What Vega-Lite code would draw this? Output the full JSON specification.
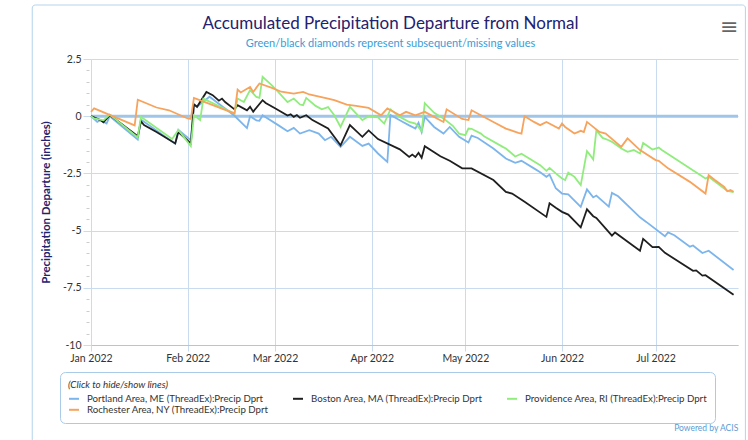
{
"$schema": "https://vega.github.io/schema/vega-lite/v6.json",
"width": 647,
"height": 286,
"autosize": {"type": "none"},
"padding": {"left": 91, "top": 59, "right": 10, "bottom": 95},
"background": "white",
"config": {"view": {"stroke": null}, "font": "Lato"},
"title": {"text": "Accumulated Precipitation Departure from Normal", "subtitle": "Green/black diamonds represent subsequent/missing values", "anchor": "middle", "frame": "group", "dx": -24, "offset": -45.5, "fontSize": 17, "font": "Lato", "fontWeight": "normal", "color": "#22226e", "subtitleFont": "Lato", "subtitleColor": "#3a9bd6", "subtitleFontSize": 11, "subtitlePadding": 5},
"resolve": {"axis": {"y": "independent"}},
"datasets": {
"precip": [
{"date":"2022-01-01","station":"Portland Area, ME (ThreadEx):Precip Dprt","value":0.0},
{"date":"2022-01-03","station":"Portland Area, ME (ThreadEx):Precip Dprt","value":-0.25},
{"date":"2022-01-04","station":"Portland Area, ME (ThreadEx):Precip Dprt","value":-0.18},
{"date":"2022-01-06","station":"Portland Area, ME (ThreadEx):Precip Dprt","value":-0.32},
{"date":"2022-01-07","station":"Portland Area, ME (ThreadEx):Precip Dprt","value":0.0},
{"date":"2022-01-16","station":"Portland Area, ME (ThreadEx):Precip Dprt","value":-1.02},
{"date":"2022-01-17","station":"Portland Area, ME (ThreadEx):Precip Dprt","value":-0.15},
{"date":"2022-01-28","station":"Portland Area, ME (ThreadEx):Precip Dprt","value":-1.2},
{"date":"2022-01-29","station":"Portland Area, ME (ThreadEx):Precip Dprt","value":-0.6},
{"date":"2022-02-02","station":"Portland Area, ME (ThreadEx):Precip Dprt","value":-1.05},
{"date":"2022-02-03","station":"Portland Area, ME (ThreadEx):Precip Dprt","value":0.5},
{"date":"2022-02-04","station":"Portland Area, ME (ThreadEx):Precip Dprt","value":0.42},
{"date":"2022-02-08","station":"Portland Area, ME (ThreadEx):Precip Dprt","value":0.85},
{"date":"2022-02-16","station":"Portland Area, ME (ThreadEx):Precip Dprt","value":0.02},
{"date":"2022-02-20","station":"Portland Area, ME (ThreadEx):Precip Dprt","value":-0.52},
{"date":"2022-02-21","station":"Portland Area, ME (ThreadEx):Precip Dprt","value":0.0},
{"date":"2022-02-23","station":"Portland Area, ME (ThreadEx):Precip Dprt","value":-0.18},
{"date":"2022-02-24","station":"Portland Area, ME (ThreadEx):Precip Dprt","value":-0.2},
{"date":"2022-02-25","station":"Portland Area, ME (ThreadEx):Precip Dprt","value":0.04},
{"date":"2022-03-02","station":"Portland Area, ME (ThreadEx):Precip Dprt","value":-0.39},
{"date":"2022-03-05","station":"Portland Area, ME (ThreadEx):Precip Dprt","value":-0.66},
{"date":"2022-03-07","station":"Portland Area, ME (ThreadEx):Precip Dprt","value":-0.51},
{"date":"2022-03-09","station":"Portland Area, ME (ThreadEx):Precip Dprt","value":-0.76},
{"date":"2022-03-12","station":"Portland Area, ME (ThreadEx):Precip Dprt","value":-0.61},
{"date":"2022-03-15","station":"Portland Area, ME (ThreadEx):Precip Dprt","value":-0.76},
{"date":"2022-03-17","station":"Portland Area, ME (ThreadEx):Precip Dprt","value":-1.05},
{"date":"2022-03-19","station":"Portland Area, ME (ThreadEx):Precip Dprt","value":-0.9},
{"date":"2022-03-22","station":"Portland Area, ME (ThreadEx):Precip Dprt","value":-1.34},
{"date":"2022-03-25","station":"Portland Area, ME (ThreadEx):Precip Dprt","value":-0.9},
{"date":"2022-03-29","station":"Portland Area, ME (ThreadEx):Precip Dprt","value":-1.3},
{"date":"2022-03-31","station":"Portland Area, ME (ThreadEx):Precip Dprt","value":-1.2},
{"date":"2022-04-03","station":"Portland Area, ME (ThreadEx):Precip Dprt","value":-1.63},
{"date":"2022-04-06","station":"Portland Area, ME (ThreadEx):Precip Dprt","value":-2.0},
{"date":"2022-04-07","station":"Portland Area, ME (ThreadEx):Precip Dprt","value":0.05},
{"date":"2022-04-09","station":"Portland Area, ME (ThreadEx):Precip Dprt","value":-0.1},
{"date":"2022-04-11","station":"Portland Area, ME (ThreadEx):Precip Dprt","value":-0.25},
{"date":"2022-04-13","station":"Portland Area, ME (ThreadEx):Precip Dprt","value":-0.4},
{"date":"2022-04-15","station":"Portland Area, ME (ThreadEx):Precip Dprt","value":-0.54},
{"date":"2022-04-16","station":"Portland Area, ME (ThreadEx):Precip Dprt","value":-0.29},
{"date":"2022-04-17","station":"Portland Area, ME (ThreadEx):Precip Dprt","value":-0.69},
{"date":"2022-04-18","station":"Portland Area, ME (ThreadEx):Precip Dprt","value":-0.03},
{"date":"2022-04-21","station":"Portland Area, ME (ThreadEx):Precip Dprt","value":-0.47},
{"date":"2022-04-24","station":"Portland Area, ME (ThreadEx):Precip Dprt","value":-0.76},
{"date":"2022-04-26","station":"Portland Area, ME (ThreadEx):Precip Dprt","value":-0.47},
{"date":"2022-04-29","station":"Portland Area, ME (ThreadEx):Precip Dprt","value":-0.9},
{"date":"2022-05-02","station":"Portland Area, ME (ThreadEx):Precip Dprt","value":-1.15},
{"date":"2022-05-03","station":"Portland Area, ME (ThreadEx):Precip Dprt","value":-0.85},
{"date":"2022-05-05","station":"Portland Area, ME (ThreadEx):Precip Dprt","value":-0.95},
{"date":"2022-05-10","station":"Portland Area, ME (ThreadEx):Precip Dprt","value":-1.41},
{"date":"2022-05-14","station":"Portland Area, ME (ThreadEx):Precip Dprt","value":-1.85},
{"date":"2022-05-17","station":"Portland Area, ME (ThreadEx):Precip Dprt","value":-2.04},
{"date":"2022-05-19","station":"Portland Area, ME (ThreadEx):Precip Dprt","value":-1.95},
{"date":"2022-05-23","station":"Portland Area, ME (ThreadEx):Precip Dprt","value":-2.28},
{"date":"2022-05-25","station":"Portland Area, ME (ThreadEx):Precip Dprt","value":-2.45},
{"date":"2022-05-27","station":"Portland Area, ME (ThreadEx):Precip Dprt","value":-2.65},
{"date":"2022-05-28","station":"Portland Area, ME (ThreadEx):Precip Dprt","value":-2.55},
{"date":"2022-05-30","station":"Portland Area, ME (ThreadEx):Precip Dprt","value":-3.15},
{"date":"2022-06-01","station":"Portland Area, ME (ThreadEx):Precip Dprt","value":-3.38},
{"date":"2022-06-03","station":"Portland Area, ME (ThreadEx):Precip Dprt","value":-3.42},
{"date":"2022-06-07","station":"Portland Area, ME (ThreadEx):Precip Dprt","value":-3.96},
{"date":"2022-06-09","station":"Portland Area, ME (ThreadEx):Precip Dprt","value":-3.2},
{"date":"2022-06-11","station":"Portland Area, ME (ThreadEx):Precip Dprt","value":-3.55},
{"date":"2022-06-12","station":"Portland Area, ME (ThreadEx):Precip Dprt","value":-3.47},
{"date":"2022-06-16","station":"Portland Area, ME (ThreadEx):Precip Dprt","value":-3.95},
{"date":"2022-06-17","station":"Portland Area, ME (ThreadEx):Precip Dprt","value":-3.35},
{"date":"2022-06-19","station":"Portland Area, ME (ThreadEx):Precip Dprt","value":-3.5},
{"date":"2022-06-26","station":"Portland Area, ME (ThreadEx):Precip Dprt","value":-4.42},
{"date":"2022-06-28","station":"Portland Area, ME (ThreadEx):Precip Dprt","value":-4.62},
{"date":"2022-07-04","station":"Portland Area, ME (ThreadEx):Precip Dprt","value":-5.25},
{"date":"2022-07-05","station":"Portland Area, ME (ThreadEx):Precip Dprt","value":-5.08},
{"date":"2022-07-07","station":"Portland Area, ME (ThreadEx):Precip Dprt","value":-5.2},
{"date":"2022-07-12","station":"Portland Area, ME (ThreadEx):Precip Dprt","value":-5.7},
{"date":"2022-07-13","station":"Portland Area, ME (ThreadEx):Precip Dprt","value":-5.65},
{"date":"2022-07-16","station":"Portland Area, ME (ThreadEx):Precip Dprt","value":-5.98},
{"date":"2022-07-18","station":"Portland Area, ME (ThreadEx):Precip Dprt","value":-5.88},
{"date":"2022-07-26","station":"Portland Area, ME (ThreadEx):Precip Dprt","value":-6.72},
{"date":"2022-01-01","station":"Boston Area, MA (ThreadEx):Precip Dprt","value":0.0},
{"date":"2022-01-04","station":"Boston Area, MA (ThreadEx):Precip Dprt","value":-0.17},
{"date":"2022-01-05","station":"Boston Area, MA (ThreadEx):Precip Dprt","value":-0.27},
{"date":"2022-01-07","station":"Boston Area, MA (ThreadEx):Precip Dprt","value":0.05},
{"date":"2022-01-16","station":"Boston Area, MA (ThreadEx):Precip Dprt","value":-0.88},
{"date":"2022-01-17","station":"Boston Area, MA (ThreadEx):Precip Dprt","value":-0.22},
{"date":"2022-01-18","station":"Boston Area, MA (ThreadEx):Precip Dprt","value":-0.39},
{"date":"2022-01-22","station":"Boston Area, MA (ThreadEx):Precip Dprt","value":-0.69},
{"date":"2022-01-28","station":"Boston Area, MA (ThreadEx):Precip Dprt","value":-1.19},
{"date":"2022-01-29","station":"Boston Area, MA (ThreadEx):Precip Dprt","value":-0.69},
{"date":"2022-02-02","station":"Boston Area, MA (ThreadEx):Precip Dprt","value":-1.19},
{"date":"2022-02-03","station":"Boston Area, MA (ThreadEx):Precip Dprt","value":0.52},
{"date":"2022-02-04","station":"Boston Area, MA (ThreadEx):Precip Dprt","value":0.41},
{"date":"2022-02-07","station":"Boston Area, MA (ThreadEx):Precip Dprt","value":1.06},
{"date":"2022-02-09","station":"Boston Area, MA (ThreadEx):Precip Dprt","value":0.92},
{"date":"2022-02-11","station":"Boston Area, MA (ThreadEx):Precip Dprt","value":0.68},
{"date":"2022-02-12","station":"Boston Area, MA (ThreadEx):Precip Dprt","value":0.77},
{"date":"2022-02-13","station":"Boston Area, MA (ThreadEx):Precip Dprt","value":0.62},
{"date":"2022-02-16","station":"Boston Area, MA (ThreadEx):Precip Dprt","value":0.3},
{"date":"2022-02-17","station":"Boston Area, MA (ThreadEx):Precip Dprt","value":0.48},
{"date":"2022-02-20","station":"Boston Area, MA (ThreadEx):Precip Dprt","value":0.26},
{"date":"2022-02-21","station":"Boston Area, MA (ThreadEx):Precip Dprt","value":0.41},
{"date":"2022-02-22","station":"Boston Area, MA (ThreadEx):Precip Dprt","value":0.2},
{"date":"2022-02-25","station":"Boston Area, MA (ThreadEx):Precip Dprt","value":0.7},
{"date":"2022-02-26","station":"Boston Area, MA (ThreadEx):Precip Dprt","value":0.58},
{"date":"2022-03-01","station":"Boston Area, MA (ThreadEx):Precip Dprt","value":0.35},
{"date":"2022-03-05","station":"Boston Area, MA (ThreadEx):Precip Dprt","value":0.03},
{"date":"2022-03-06","station":"Boston Area, MA (ThreadEx):Precip Dprt","value":0.08},
{"date":"2022-03-07","station":"Boston Area, MA (ThreadEx):Precip Dprt","value":-0.03},
{"date":"2022-03-08","station":"Boston Area, MA (ThreadEx):Precip Dprt","value":0.05},
{"date":"2022-03-09","station":"Boston Area, MA (ThreadEx):Precip Dprt","value":-0.07},
{"date":"2022-03-11","station":"Boston Area, MA (ThreadEx):Precip Dprt","value":0.04},
{"date":"2022-03-13","station":"Boston Area, MA (ThreadEx):Precip Dprt","value":-0.17},
{"date":"2022-03-18","station":"Boston Area, MA (ThreadEx):Precip Dprt","value":-0.54},
{"date":"2022-03-22","station":"Boston Area, MA (ThreadEx):Precip Dprt","value":-1.27},
{"date":"2022-03-25","station":"Boston Area, MA (ThreadEx):Precip Dprt","value":-0.39},
{"date":"2022-03-29","station":"Boston Area, MA (ThreadEx):Precip Dprt","value":-0.9},
{"date":"2022-03-31","station":"Boston Area, MA (ThreadEx):Precip Dprt","value":-0.62},
{"date":"2022-04-03","station":"Boston Area, MA (ThreadEx):Precip Dprt","value":-1.0},
{"date":"2022-04-10","station":"Boston Area, MA (ThreadEx):Precip Dprt","value":-1.45},
{"date":"2022-04-13","station":"Boston Area, MA (ThreadEx):Precip Dprt","value":-1.78},
{"date":"2022-04-14","station":"Boston Area, MA (ThreadEx):Precip Dprt","value":-1.68},
{"date":"2022-04-15","station":"Boston Area, MA (ThreadEx):Precip Dprt","value":-1.78},
{"date":"2022-04-16","station":"Boston Area, MA (ThreadEx):Precip Dprt","value":-1.6},
{"date":"2022-04-17","station":"Boston Area, MA (ThreadEx):Precip Dprt","value":-1.82},
{"date":"2022-04-18","station":"Boston Area, MA (ThreadEx):Precip Dprt","value":-1.31},
{"date":"2022-04-23","station":"Boston Area, MA (ThreadEx):Precip Dprt","value":-1.75},
{"date":"2022-04-26","station":"Boston Area, MA (ThreadEx):Precip Dprt","value":-1.95},
{"date":"2022-04-30","station":"Boston Area, MA (ThreadEx):Precip Dprt","value":-2.28},
{"date":"2022-05-03","station":"Boston Area, MA (ThreadEx):Precip Dprt","value":-2.28},
{"date":"2022-05-10","station":"Boston Area, MA (ThreadEx):Precip Dprt","value":-2.79},
{"date":"2022-05-14","station":"Boston Area, MA (ThreadEx):Precip Dprt","value":-3.31},
{"date":"2022-05-16","station":"Boston Area, MA (ThreadEx):Precip Dprt","value":-3.38},
{"date":"2022-05-20","station":"Boston Area, MA (ThreadEx):Precip Dprt","value":-3.74},
{"date":"2022-05-27","station":"Boston Area, MA (ThreadEx):Precip Dprt","value":-4.4},
{"date":"2022-05-28","station":"Boston Area, MA (ThreadEx):Precip Dprt","value":-3.81},
{"date":"2022-05-30","station":"Boston Area, MA (ThreadEx):Precip Dprt","value":-4.0},
{"date":"2022-06-01","station":"Boston Area, MA (ThreadEx):Precip Dprt","value":-4.18},
{"date":"2022-06-03","station":"Boston Area, MA (ThreadEx):Precip Dprt","value":-4.3},
{"date":"2022-06-07","station":"Boston Area, MA (ThreadEx):Precip Dprt","value":-4.86},
{"date":"2022-06-09","station":"Boston Area, MA (ThreadEx):Precip Dprt","value":-4.07},
{"date":"2022-06-11","station":"Boston Area, MA (ThreadEx):Precip Dprt","value":-4.37},
{"date":"2022-06-12","station":"Boston Area, MA (ThreadEx):Precip Dprt","value":-4.45},
{"date":"2022-06-17","station":"Boston Area, MA (ThreadEx):Precip Dprt","value":-5.22},
{"date":"2022-06-18","station":"Boston Area, MA (ThreadEx):Precip Dprt","value":-5.08},
{"date":"2022-06-26","station":"Boston Area, MA (ThreadEx):Precip Dprt","value":-5.88},
{"date":"2022-06-27","station":"Boston Area, MA (ThreadEx):Precip Dprt","value":-5.36},
{"date":"2022-06-30","station":"Boston Area, MA (ThreadEx):Precip Dprt","value":-5.72},
{"date":"2022-07-02","station":"Boston Area, MA (ThreadEx):Precip Dprt","value":-5.71},
{"date":"2022-07-04","station":"Boston Area, MA (ThreadEx):Precip Dprt","value":-5.97},
{"date":"2022-07-13","station":"Boston Area, MA (ThreadEx):Precip Dprt","value":-6.76},
{"date":"2022-07-14","station":"Boston Area, MA (ThreadEx):Precip Dprt","value":-6.74},
{"date":"2022-07-16","station":"Boston Area, MA (ThreadEx):Precip Dprt","value":-6.97},
{"date":"2022-07-17","station":"Boston Area, MA (ThreadEx):Precip Dprt","value":-6.95},
{"date":"2022-07-26","station":"Boston Area, MA (ThreadEx):Precip Dprt","value":-7.8},
{"date":"2022-01-01","station":"Providence Area, RI (ThreadEx):Precip Dprt","value":0.0},
{"date":"2022-01-02","station":"Providence Area, RI (ThreadEx):Precip Dprt","value":-0.1},
{"date":"2022-01-05","station":"Providence Area, RI (ThreadEx):Precip Dprt","value":-0.18},
{"date":"2022-01-07","station":"Providence Area, RI (ThreadEx):Precip Dprt","value":0.07},
{"date":"2022-01-16","station":"Providence Area, RI (ThreadEx):Precip Dprt","value":-0.93},
{"date":"2022-01-17","station":"Providence Area, RI (ThreadEx):Precip Dprt","value":-0.03},
{"date":"2022-01-27","station":"Providence Area, RI (ThreadEx):Precip Dprt","value":-1.0},
{"date":"2022-01-29","station":"Providence Area, RI (ThreadEx):Precip Dprt","value":-0.6},
{"date":"2022-02-02","station":"Providence Area, RI (ThreadEx):Precip Dprt","value":-1.31},
{"date":"2022-02-03","station":"Providence Area, RI (ThreadEx):Precip Dprt","value":0.04},
{"date":"2022-02-05","station":"Providence Area, RI (ThreadEx):Precip Dprt","value":-0.17},
{"date":"2022-02-06","station":"Providence Area, RI (ThreadEx):Precip Dprt","value":0.77},
{"date":"2022-02-16","station":"Providence Area, RI (ThreadEx):Precip Dprt","value":0.12},
{"date":"2022-02-17","station":"Providence Area, RI (ThreadEx):Precip Dprt","value":0.77},
{"date":"2022-02-19","station":"Providence Area, RI (ThreadEx):Precip Dprt","value":0.62},
{"date":"2022-02-21","station":"Providence Area, RI (ThreadEx):Precip Dprt","value":1.14},
{"date":"2022-02-23","station":"Providence Area, RI (ThreadEx):Precip Dprt","value":0.84},
{"date":"2022-02-24","station":"Providence Area, RI (ThreadEx):Precip Dprt","value":0.8},
{"date":"2022-02-25","station":"Providence Area, RI (ThreadEx):Precip Dprt","value":1.72},
{"date":"2022-02-28","station":"Providence Area, RI (ThreadEx):Precip Dprt","value":1.35},
{"date":"2022-03-02","station":"Providence Area, RI (ThreadEx):Precip Dprt","value":1.06},
{"date":"2022-03-05","station":"Providence Area, RI (ThreadEx):Precip Dprt","value":0.62},
{"date":"2022-03-07","station":"Providence Area, RI (ThreadEx):Precip Dprt","value":0.77},
{"date":"2022-03-09","station":"Providence Area, RI (ThreadEx):Precip Dprt","value":0.51},
{"date":"2022-03-10","station":"Providence Area, RI (ThreadEx):Precip Dprt","value":0.48},
{"date":"2022-03-11","station":"Providence Area, RI (ThreadEx):Precip Dprt","value":0.8},
{"date":"2022-03-14","station":"Providence Area, RI (ThreadEx):Precip Dprt","value":0.45},
{"date":"2022-03-16","station":"Providence Area, RI (ThreadEx):Precip Dprt","value":0.3},
{"date":"2022-03-18","station":"Providence Area, RI (ThreadEx):Precip Dprt","value":0.4},
{"date":"2022-03-20","station":"Providence Area, RI (ThreadEx):Precip Dprt","value":0.04},
{"date":"2022-03-22","station":"Providence Area, RI (ThreadEx):Precip Dprt","value":-0.47},
{"date":"2022-03-25","station":"Providence Area, RI (ThreadEx):Precip Dprt","value":0.41},
{"date":"2022-03-29","station":"Providence Area, RI (ThreadEx):Precip Dprt","value":-0.17},
{"date":"2022-03-31","station":"Providence Area, RI (ThreadEx):Precip Dprt","value":0.0},
{"date":"2022-04-03","station":"Providence Area, RI (ThreadEx):Precip Dprt","value":-0.05},
{"date":"2022-04-05","station":"Providence Area, RI (ThreadEx):Precip Dprt","value":-0.32},
{"date":"2022-04-07","station":"Providence Area, RI (ThreadEx):Precip Dprt","value":0.3},
{"date":"2022-04-10","station":"Providence Area, RI (ThreadEx):Precip Dprt","value":-0.03},
{"date":"2022-04-13","station":"Providence Area, RI (ThreadEx):Precip Dprt","value":-0.25},
{"date":"2022-04-15","station":"Providence Area, RI (ThreadEx):Precip Dprt","value":-0.32},
{"date":"2022-04-17","station":"Providence Area, RI (ThreadEx):Precip Dprt","value":-0.65},
{"date":"2022-04-18","station":"Providence Area, RI (ThreadEx):Precip Dprt","value":0.57},
{"date":"2022-04-21","station":"Providence Area, RI (ThreadEx):Precip Dprt","value":0.15},
{"date":"2022-04-24","station":"Providence Area, RI (ThreadEx):Precip Dprt","value":-0.1},
{"date":"2022-04-27","station":"Providence Area, RI (ThreadEx):Precip Dprt","value":-0.42},
{"date":"2022-04-29","station":"Providence Area, RI (ThreadEx):Precip Dprt","value":-0.76},
{"date":"2022-05-01","station":"Providence Area, RI (ThreadEx):Precip Dprt","value":-0.83},
{"date":"2022-05-02","station":"Providence Area, RI (ThreadEx):Precip Dprt","value":-0.54},
{"date":"2022-05-03","station":"Providence Area, RI (ThreadEx):Precip Dprt","value":-0.55},
{"date":"2022-05-06","station":"Providence Area, RI (ThreadEx):Precip Dprt","value":-0.76},
{"date":"2022-05-07","station":"Providence Area, RI (ThreadEx):Precip Dprt","value":-0.88},
{"date":"2022-05-13","station":"Providence Area, RI (ThreadEx):Precip Dprt","value":-1.34},
{"date":"2022-05-14","station":"Providence Area, RI (ThreadEx):Precip Dprt","value":-1.41},
{"date":"2022-05-17","station":"Providence Area, RI (ThreadEx):Precip Dprt","value":-1.76},
{"date":"2022-05-19","station":"Providence Area, RI (ThreadEx):Precip Dprt","value":-1.64},
{"date":"2022-05-25","station":"Providence Area, RI (ThreadEx):Precip Dprt","value":-2.14},
{"date":"2022-05-27","station":"Providence Area, RI (ThreadEx):Precip Dprt","value":-2.39},
{"date":"2022-05-28","station":"Providence Area, RI (ThreadEx):Precip Dprt","value":-2.26},
{"date":"2022-05-30","station":"Providence Area, RI (ThreadEx):Precip Dprt","value":-2.5},
{"date":"2022-06-01","station":"Providence Area, RI (ThreadEx):Precip Dprt","value":-2.72},
{"date":"2022-06-02","station":"Providence Area, RI (ThreadEx):Precip Dprt","value":-2.79},
{"date":"2022-06-03","station":"Providence Area, RI (ThreadEx):Precip Dprt","value":-2.47},
{"date":"2022-06-05","station":"Providence Area, RI (ThreadEx):Precip Dprt","value":-2.65},
{"date":"2022-06-07","station":"Providence Area, RI (ThreadEx):Precip Dprt","value":-3.01},
{"date":"2022-06-09","station":"Providence Area, RI (ThreadEx):Precip Dprt","value":-1.53},
{"date":"2022-06-10","station":"Providence Area, RI (ThreadEx):Precip Dprt","value":-1.7},
{"date":"2022-06-11","station":"Providence Area, RI (ThreadEx):Precip Dprt","value":-1.89},
{"date":"2022-06-12","station":"Providence Area, RI (ThreadEx):Precip Dprt","value":-0.62},
{"date":"2022-06-14","station":"Providence Area, RI (ThreadEx):Precip Dprt","value":-0.95},
{"date":"2022-06-16","station":"Providence Area, RI (ThreadEx):Precip Dprt","value":-1.05},
{"date":"2022-06-17","station":"Providence Area, RI (ThreadEx):Precip Dprt","value":-1.12},
{"date":"2022-06-20","station":"Providence Area, RI (ThreadEx):Precip Dprt","value":-1.41},
{"date":"2022-06-22","station":"Providence Area, RI (ThreadEx):Precip Dprt","value":-1.56},
{"date":"2022-06-24","station":"Providence Area, RI (ThreadEx):Precip Dprt","value":-1.48},
{"date":"2022-06-26","station":"Providence Area, RI (ThreadEx):Precip Dprt","value":-1.63},
{"date":"2022-06-27","station":"Providence Area, RI (ThreadEx):Precip Dprt","value":-1.17},
{"date":"2022-06-30","station":"Providence Area, RI (ThreadEx):Precip Dprt","value":-1.46},
{"date":"2022-07-02","station":"Providence Area, RI (ThreadEx):Precip Dprt","value":-1.37},
{"date":"2022-07-03","station":"Providence Area, RI (ThreadEx):Precip Dprt","value":-1.48},
{"date":"2022-07-17","station":"Providence Area, RI (ThreadEx):Precip Dprt","value":-2.72},
{"date":"2022-07-18","station":"Providence Area, RI (ThreadEx):Precip Dprt","value":-2.65},
{"date":"2022-07-24","station":"Providence Area, RI (ThreadEx):Precip Dprt","value":-3.26},
{"date":"2022-07-26","station":"Providence Area, RI (ThreadEx):Precip Dprt","value":-3.32},
{"date":"2022-01-01","station":"Rochester Area, NY (ThreadEx):Precip Dprt","value":0.19},
{"date":"2022-01-02","station":"Rochester Area, NY (ThreadEx):Precip Dprt","value":0.34},
{"date":"2022-01-15","station":"Rochester Area, NY (ThreadEx):Precip Dprt","value":-0.4},
{"date":"2022-01-16","station":"Rochester Area, NY (ThreadEx):Precip Dprt","value":0.72},
{"date":"2022-01-22","station":"Rochester Area, NY (ThreadEx):Precip Dprt","value":0.38},
{"date":"2022-01-26","station":"Rochester Area, NY (ThreadEx):Precip Dprt","value":0.26},
{"date":"2022-02-01","station":"Rochester Area, NY (ThreadEx):Precip Dprt","value":-0.1},
{"date":"2022-02-02","station":"Rochester Area, NY (ThreadEx):Precip Dprt","value":-0.12},
{"date":"2022-02-03","station":"Rochester Area, NY (ThreadEx):Precip Dprt","value":0.8},
{"date":"2022-02-04","station":"Rochester Area, NY (ThreadEx):Precip Dprt","value":0.75},
{"date":"2022-02-16","station":"Rochester Area, NY (ThreadEx):Precip Dprt","value":0.12},
{"date":"2022-02-17","station":"Rochester Area, NY (ThreadEx):Precip Dprt","value":1.16},
{"date":"2022-02-18","station":"Rochester Area, NY (ThreadEx):Precip Dprt","value":1.04},
{"date":"2022-02-21","station":"Rochester Area, NY (ThreadEx):Precip Dprt","value":1.28},
{"date":"2022-02-22","station":"Rochester Area, NY (ThreadEx):Precip Dprt","value":1.06},
{"date":"2022-02-24","station":"Rochester Area, NY (ThreadEx):Precip Dprt","value":1.43},
{"date":"2022-02-28","station":"Rochester Area, NY (ThreadEx):Precip Dprt","value":1.24},
{"date":"2022-03-03","station":"Rochester Area, NY (ThreadEx):Precip Dprt","value":1.07},
{"date":"2022-03-07","station":"Rochester Area, NY (ThreadEx):Precip Dprt","value":0.99},
{"date":"2022-03-10","station":"Rochester Area, NY (ThreadEx):Precip Dprt","value":1.06},
{"date":"2022-03-12","station":"Rochester Area, NY (ThreadEx):Precip Dprt","value":0.95},
{"date":"2022-03-18","station":"Rochester Area, NY (ThreadEx):Precip Dprt","value":0.77},
{"date":"2022-03-20","station":"Rochester Area, NY (ThreadEx):Precip Dprt","value":0.7},
{"date":"2022-03-24","station":"Rochester Area, NY (ThreadEx):Precip Dprt","value":0.51},
{"date":"2022-03-27","station":"Rochester Area, NY (ThreadEx):Precip Dprt","value":0.45},
{"date":"2022-03-31","station":"Rochester Area, NY (ThreadEx):Precip Dprt","value":0.36},
{"date":"2022-04-04","station":"Rochester Area, NY (ThreadEx):Precip Dprt","value":0.04},
{"date":"2022-04-06","station":"Rochester Area, NY (ThreadEx):Precip Dprt","value":0.34},
{"date":"2022-04-10","station":"Rochester Area, NY (ThreadEx):Precip Dprt","value":0.04},
{"date":"2022-04-12","station":"Rochester Area, NY (ThreadEx):Precip Dprt","value":0.19},
{"date":"2022-04-15","station":"Rochester Area, NY (ThreadEx):Precip Dprt","value":0.04},
{"date":"2022-04-18","station":"Rochester Area, NY (ThreadEx):Precip Dprt","value":0.19},
{"date":"2022-04-24","station":"Rochester Area, NY (ThreadEx):Precip Dprt","value":-0.25},
{"date":"2022-04-25","station":"Rochester Area, NY (ThreadEx):Precip Dprt","value":0.3},
{"date":"2022-04-30","station":"Rochester Area, NY (ThreadEx):Precip Dprt","value":-0.12},
{"date":"2022-05-02","station":"Rochester Area, NY (ThreadEx):Precip Dprt","value":-0.17},
{"date":"2022-05-03","station":"Rochester Area, NY (ThreadEx):Precip Dprt","value":0.26},
{"date":"2022-05-10","station":"Rochester Area, NY (ThreadEx):Precip Dprt","value":-0.25},
{"date":"2022-05-14","station":"Rochester Area, NY (ThreadEx):Precip Dprt","value":-0.54},
{"date":"2022-05-18","station":"Rochester Area, NY (ThreadEx):Precip Dprt","value":-0.73},
{"date":"2022-05-19","station":"Rochester Area, NY (ThreadEx):Precip Dprt","value":-0.76},
{"date":"2022-05-20","station":"Rochester Area, NY (ThreadEx):Precip Dprt","value":0.0},
{"date":"2022-05-23","station":"Rochester Area, NY (ThreadEx):Precip Dprt","value":-0.25},
{"date":"2022-05-25","station":"Rochester Area, NY (ThreadEx):Precip Dprt","value":-0.39},
{"date":"2022-05-27","station":"Rochester Area, NY (ThreadEx):Precip Dprt","value":-0.25},
{"date":"2022-05-31","station":"Rochester Area, NY (ThreadEx):Precip Dprt","value":-0.54},
{"date":"2022-06-01","station":"Rochester Area, NY (ThreadEx):Precip Dprt","value":-0.32},
{"date":"2022-06-02","station":"Rochester Area, NY (ThreadEx):Precip Dprt","value":-0.47},
{"date":"2022-06-05","station":"Rochester Area, NY (ThreadEx):Precip Dprt","value":-0.76},
{"date":"2022-06-07","station":"Rochester Area, NY (ThreadEx):Precip Dprt","value":-0.64},
{"date":"2022-06-08","station":"Rochester Area, NY (ThreadEx):Precip Dprt","value":-0.69},
{"date":"2022-06-09","station":"Rochester Area, NY (ThreadEx):Precip Dprt","value":-0.25},
{"date":"2022-06-13","station":"Rochester Area, NY (ThreadEx):Precip Dprt","value":-0.69},
{"date":"2022-06-15","station":"Rochester Area, NY (ThreadEx):Precip Dprt","value":-0.76},
{"date":"2022-06-20","station":"Rochester Area, NY (ThreadEx):Precip Dprt","value":-1.34},
{"date":"2022-06-22","station":"Rochester Area, NY (ThreadEx):Precip Dprt","value":-0.97},
{"date":"2022-06-26","station":"Rochester Area, NY (ThreadEx):Precip Dprt","value":-1.48},
{"date":"2022-07-01","station":"Rochester Area, NY (ThreadEx):Precip Dprt","value":-1.92},
{"date":"2022-07-02","station":"Rochester Area, NY (ThreadEx):Precip Dprt","value":-1.95},
{"date":"2022-07-05","station":"Rochester Area, NY (ThreadEx):Precip Dprt","value":-2.28},
{"date":"2022-07-12","station":"Rochester Area, NY (ThreadEx):Precip Dprt","value":-2.87},
{"date":"2022-07-17","station":"Rochester Area, NY (ThreadEx):Precip Dprt","value":-3.38},
{"date":"2022-07-18","station":"Rochester Area, NY (ThreadEx):Precip Dprt","value":-2.58},
{"date":"2022-07-20","station":"Rochester Area, NY (ThreadEx):Precip Dprt","value":-2.79},
{"date":"2022-07-23","station":"Rochester Area, NY (ThreadEx):Precip Dprt","value":-3.09},
{"date":"2022-07-24","station":"Rochester Area, NY (ThreadEx):Precip Dprt","value":-3.28},
{"date":"2022-07-25","station":"Rochester Area, NY (ThreadEx):Precip Dprt","value":-3.23},
{"date":"2022-07-26","station":"Rochester Area, NY (ThreadEx):Precip Dprt","value":-3.3}
]
},
"layer": [
{
"data": {"values": [{"frame": "chart"}]},
"mark": {"type": "rect", "fill": null, "stroke": "#b3d3ec", "strokeWidth": 1, "cornerRadius": 3},
"encoding": {
"x": {"datum": {"year": 2021, "month": 12, "date": 13, "hours": 4, "utc": true}, "type": "temporal"},
"x2": {"datum": {"year": 2022, "month": 7, "date": 29, "hours": 19, "utc": true}},
"y": {"datum": 4.86, "type": "quantitative", "axis": null},
"y2": {"datum": -14.37}
}
},
{
"data": {"values": [{"level": 0}]},
"mark": {"type": "rule", "color": "#9fc5e8", "strokeWidth": 3},
"encoding": {"y": {"field": "level", "type": "quantitative",
"scale": {"domain": [-10, 2.5], "nice": false, "zero": false},
"axis": {"orient": "left", "title": null, "values": [-9.5, -9, -8.5, -8, -7, -6.5, -6, -5.5, -4.5, -4, -3.5, -3, -2, -1.5, -1, -0.5, 0.5, 1, 1.5, 2], "labels": false, "grid": false, "domain": false, "ticks": true, "tickSize": 3, "tickColor": "#cccccc", "offset": 2}}}
},
{
"data": {"name": "precip"},
"mark": {"type": "line", "strokeWidth": 1.8, "interpolate": "linear"},
"encoding": {
"x": {"field": "date", "type": "temporal",
"scale": {"type": "utc", "domain": [{"year": 2022, "month": 1, "date": 1, "utc": true}, {"year": 2022, "month": 7, "date": 27, "hours": 10, "utc": true}], "nice": false},
"axis": {"title": null, "labelExpr": "utcFormat(datum.value, '%b %Y')",
"values": [{"year": 2022, "month": 1, "date": 1, "utc": true}, {"year": 2022, "month": 2, "date": 1, "utc": true}, {"year": 2022, "month": 3, "date": 1, "utc": true}, {"year": 2022, "month": 4, "date": 1, "utc": true}, {"year": 2022, "month": 5, "date": 1, "utc": true}, {"year": 2022, "month": 6, "date": 1, "utc": true}, {"year": 2022, "month": 7, "date": 1, "utc": true}],
"grid": true, "gridColor": "#c9dbee", "gridWidth": 1, "domainColor": "#a9c8e6", "domainWidth": 1, "tickColor": "#c9dbee", "tickSize": 6, "labelPadding": 2, "labelFontSize": 10.5, "labelColor": "#333333", "labelFont": "Lato", "labelFlush": false}},
"y": {"field": "value", "type": "quantitative",
"scale": {"domain": [-10, 2.5], "nice": false, "zero": false},
"axis": {"orient": "left", "title": "Precipitation Departure (inches)", "values": [-10, -7.5, -5, -2.5, 0, 2.5], "labelExpr": "toString(datum.value)", "grid": true, "gridColor": "#c9dbee", "gridWidth": 1, "domain": false, "tickColor": "#c9dbee", "tickSize": 8, "labelPadding": 2, "labelFontSize": 10.5, "labelColor": "#333333", "labelFont": "Lato", "titleColor": "#22226e", "titleFontWeight": "bold", "titleFontSize": 11.5, "titleFont": "Lato", "titleX": -45, "titleY": 143, "titleAlign": "center", "titleBaseline": "middle", "titleAngle": -90}},
"color": {"field": "station", "type": "nominal",
"scale": {"domain": ["Portland Area, ME (ThreadEx):Precip Dprt", "Boston Area, MA (ThreadEx):Precip Dprt", "Providence Area, RI (ThreadEx):Precip Dprt", "Rochester Area, NY (ThreadEx):Precip Dprt"], "range": ["#7cb5ec", "#1f1f1f", "#90ed7d", "#f7a35c"]},
"legend": {"orient": "none", "legendX": -31, "legendY": 313, "direction": "horizontal", "columns": 3, "gridAlign": "none", "title": "(Click to hide/show lines)", "titleFontStyle": "italic", "titleFontWeight": "normal", "titleFontSize": 9.8, "titleColor": "#333333", "titleFont": "Lato", "titlePadding": 3, "labelFontSize": 9.7, "labelColor": "#333333", "labelFont": "Lato", "symbolType": "stroke", "symbolStrokeWidth": 2, "symbolSize": 100, "columnPadding": 20, "rowPadding": 0, "padding": 8, "strokeColor": "#a9cbe8", "cornerRadius": 5, "fillColor": "white", "labelLimit": 400, "titleLimit": 400, "labelOffset": 7}}
}
},
{
"data": {"values": [{"credit": "Powered by ACIS"}]},
"mark": {"type": "text", "align": "right", "baseline": "middle", "fontSize": 8.5, "color": "#5b9bd5", "font": "Lato"},
"encoding": {
"text": {"field": "credit"},
"x": {"datum": {"year": 2022, "month": 7, "date": 27, "hours": 12, "utc": true}, "type": "temporal"},
"y": {"datum": -13.63, "type": "quantitative", "axis": null}
}
},
{
"data": {"values": [{"icon": "≡"}]},
"mark": {"type": "text", "align": "center", "baseline": "middle", "fontSize": 22, "color": "#666666", "font": "DejaVu Sans"},
"encoding": {
"text": {"field": "icon"},
"x": {"datum": {"year": 2022, "month": 7, "date": 24, "hours": 14, "utc": true}, "type": "temporal"},
"y": {"datum": 3.9, "type": "quantitative", "axis": null}
}
}
]
}
